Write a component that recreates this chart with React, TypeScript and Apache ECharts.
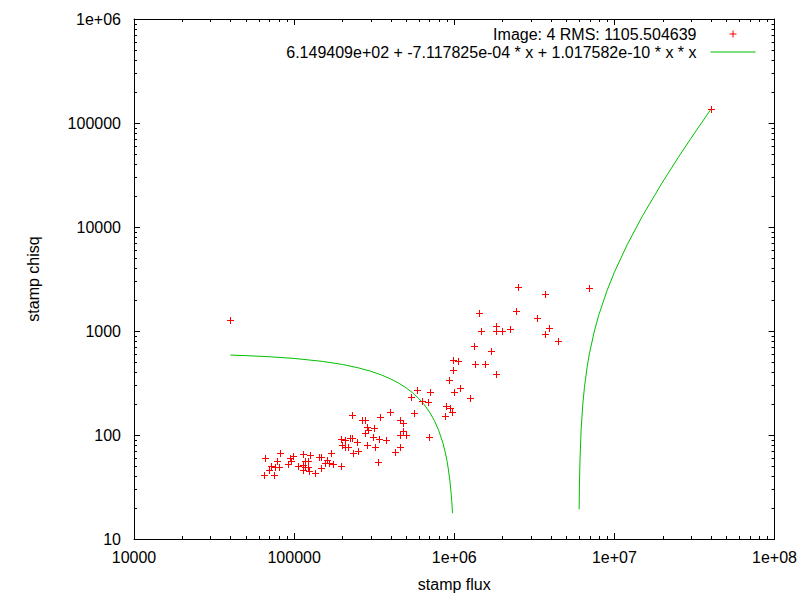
import React, { useEffect, useRef } from 'react';
import * as echarts from 'echarts';

const FONT = 'Liberation Sans';

const xTickLabels = ['10000', '100000', '1e+06', '1e+07', '1e+08'];
const yTickLabels = ['10', '100', '1000', '10000', '100000', '1e+06'];
const minorSteps = [2, 3, 4, 5, 6, 7, 8, 9];
const xDecades = [10000, 100000, 1000000, 10000000];
const yDecades = [10, 100, 1000, 10000, 100000];

const scatterName = 'Image: 4 RMS: 1105.504639';
const fitName = '6.149409e+02 + -7.117825e-04 * x + 1.017582e-10 * x * x';

const fluxValues = [
  40000, 64700, 65400, 69300, 72000, 74700, 75500, 78500, 80000, 81100,
  91400, 93700, 95000, 98200, 105500, 113400, 113400, 116200, 116200, 113400,
  121800, 121800, 123100, 124900, 134200, 142100, 147700, 146300, 156500, 161000,
  164100, 170500, 174500, 196900, 195000, 206400, 221800, 229300, 198600, 208500,
  216400, 247900, 232600, 250000, 229300, 264800, 278000, 341400, 395800, 285300,
  288600, 314600, 275200, 308800, 336500, 373600, 284400, 320900, 333100, 423600,
  457000, 479900, 475100, 457000, 503100, 457000, 558800, 583400, 710500, 533000,
  627000, 690200, 693200, 889900, 946900, 964700, 881200, 923900, 992900, 1082000,
  1250000, 978800, 1055000, 978800, 1323000, 1343000, 1550000, 1816000, 1694000, 1463000,
  1422000, 1816000, 1816000, 1985000, 2226000, 2416000, 2490000, 3272000, 3665000, 3708000,
  3888000, 4425000, 6908000, 40000000,
];
const chisqValues = [
  1270, 41.2, 59.7, 46.1, 50.3, 41.2, 49.6, 56.6, 49.6, 66.7,
  52.6, 59.7, 56.6, 62.8, 50.3, 65.7, 51.4, 56.6, 48.9, 46.1,
  56.6, 49.6, 45.4, 64.2, 42.8, 61.9, 61.9, 47.8, 54.2, 57.5,
  53.4, 67.6, 52.6, 50.3, 91.5, 89.5, 92.9, 94.2, 80.1, 77.2,
  77.2, 86.2, 66.7, 70.2, 154, 139.4, 139.4, 150.6, 165.3, 120.7,
  111.7, 116, 103.8, 95, 91.5, 89.5, 80.1, 77.5, 55.6, 67.9,
  139.4, 129.6, 109.3, 100, 100, 77.5, 161.7, 267.9, 257.4, 229.4,
  214.6, 206.2, 96.7, 190.1, 180.6, 165.3, 153.3, 337.9, 260.8, 281.2,
  224.4, 526.2, 518.1, 421.7, 709.6, 478.4, 478.4, 383.4, 642.3, 1011,
  1500, 1117, 1011, 1000, 1038, 1550, 2650, 1325, 2254, 929,
  1062, 801, 2574, 136000,
];

const fitLeftX = [
  40000, 50000, 70000, 100000, 150000, 200000, 250000, 300000, 350000, 400000,
  450000, 500000, 550000, 600000, 650000, 700000, 750000, 800000, 850000, 880000,
  900000, 920000, 940000, 955000, 960000, 965000, 970000, 975000,
];
const fitLeftY = [
  586.6, 579.6, 565.6, 544.8, 510.5, 476.7, 443.4, 410.6, 378.3, 346.5,
  315.2, 284.5, 254.2, 224.5, 195.3, 166.6, 138.3, 110.6, 83.4, 67.4,
  56.8, 46.2, 35.8, 28.0, 25.4, 22.8, 20.3, 17.7,
];
const fitRightX = [
  6023000, 6050000, 6100000, 6200000, 6350000, 6500000, 6750000, 7000000, 7500000, 8000000,
  9000000, 10000000, 12000000, 15000000, 20000000, 25000000, 30000000, 35000000, 40000000,
];
const fitRightY = [
  19.3, 33.2, 59.5, 113.4, 198.3, 287.6, 446.8, 618.6, 1000.5, 1433.2,
  2451.3, 3672.9, 6726.7, 12833.8, 27082.5, 46419.2, 70843.8, 100356.3, 134956.6,
];

const X_MIN = 10000;
const X_MAX = 100000000;
const Y_MIN = 10;
const Y_MAX = 1000000;

const PLUS_PATH = 'path://M0,-1L0,1M-1,0L1,0';

export default function App() {
  const ref = useRef<HTMLDivElement>(null);

  useEffect(() => {
    if (!ref.current) return;
    const chart = echarts.init(ref.current, null, { renderer: 'svg' });

    const scatterData = fluxValues.map((x, i) => [x, chisqValues[i]]);
    const fitLeft = fitLeftX.map((x, i) => [x, fitLeftY[i]]);
    const fitRight = fitRightX.map((x, i) => [x, fitRightY[i]]);

    const xMinor: number[][] = [];
    xDecades.forEach((d) => minorSteps.forEach((m) => xMinor.push([d * m, Y_MIN])));
    const yMinor: number[][] = [];
    yDecades.forEach((d) => minorSteps.forEach((m) => yMinor.push([X_MIN, d * m])));

    const black = '#000000';
    const red = '#ff0000';
    const green = '#00c000';
    const axisBase = {
      type: 'log',
      logBase: 10,
      axisLine: { show: true, onZero: false, lineStyle: { color: black, width: 1 } },
      axisTick: { show: true, inside: true, length: 6, lineStyle: { color: black, width: 1 } },
      splitLine: { show: false },
      minorTick: { show: false },
    };
    const labelStyle = { color: black, fontSize: 16, fontFamily: FONT };
    const expOf = (v: number) => Math.round(Math.log10(v));

    const option: any = {
      animation: false,
      backgroundColor: '#ffffff',
      textStyle: { fontFamily: FONT },
      grid: { left: 134, right: 25, top: 19, bottom: 61, containLabel: false },
      legend: {
        data: [
          { name: scatterName, icon: PLUS_PATH },
          { name: fitName, itemStyle: { opacity: 0 } },
        ],
        orient: 'vertical',
        align: 'right',
        right: 44,
        top: 25,
        padding: 0,
        itemWidth: 45,
        itemHeight: 7,
        itemGap: 0,
        selectedMode: false,
        symbolKeepAspect: true,
        textStyle: { ...labelStyle, lineHeight: 14, padding: [0, 9, 4, 0] },
        itemStyle: { borderWidth: 1 },
        lineStyle: { width: 1 },
      },
      xAxis: [
        {
          ...axisBase,
          min: X_MIN,
          max: X_MAX,
          position: 'bottom',
          name: 'stamp flux',
          nameLocation: 'middle',
          nameGap: 37,
          nameTextStyle: labelStyle,
          axisLabel: {
            ...labelStyle,
            margin: 10,
            formatter: (v: number) => xTickLabels[expOf(v) - 4] ?? '',
          },
        },
        {
          ...axisBase,
          min: X_MIN,
          max: X_MAX,
          position: 'top',
          axisLabel: { show: false },
        },
      ],
      yAxis: [
        {
          ...axisBase,
          min: Y_MIN,
          max: Y_MAX,
          position: 'left',
          name: 'stamp chisq',
          nameLocation: 'middle',
          nameGap: 93,
          nameTextStyle: labelStyle,
          axisLabel: {
            ...labelStyle,
            margin: 13,
            formatter: (v: number) => yTickLabels[expOf(v) - 1] ?? '',
          },
        },
        {
          ...axisBase,
          min: Y_MIN,
          max: Y_MAX,
          position: 'right',
          axisLabel: { show: false },
        },
      ],
      series: [
        {
          type: 'custom',
          silent: true,
          data: xMinor,
          z: 1,
          renderItem: (params: any, api: any) => {
            const p = api.coord([api.value(0), api.value(1)]);
            const cs = params.coordSys;
            const x = Math.round(p[0]) + 0.5;
            const yb = cs.y + cs.height;
            const yt = cs.y;
            return {
              type: 'group',
              children: [
                { type: 'line', shape: { x1: x, y1: yb, x2: x, y2: yb - 3 }, style: { stroke: black, lineWidth: 1 } },
                { type: 'line', shape: { x1: x, y1: yt, x2: x, y2: yt + 3 }, style: { stroke: black, lineWidth: 1 } },
              ],
            };
          },
        },
        {
          type: 'custom',
          silent: true,
          data: yMinor,
          z: 1,
          renderItem: (params: any, api: any) => {
            const p = api.coord([api.value(0), api.value(1)]);
            const cs = params.coordSys;
            const y = Math.round(p[1]) + 0.5;
            const xl = cs.x;
            const xr = cs.x + cs.width;
            return {
              type: 'group',
              children: [
                { type: 'line', shape: { x1: xl, y1: y, x2: xl + 3, y2: y }, style: { stroke: black, lineWidth: 1 } },
                { type: 'line', shape: { x1: xr, y1: y, x2: xr - 3, y2: y }, style: { stroke: black, lineWidth: 1 } },
              ],
            };
          },
        },
        {
          type: 'custom',
          name: scatterName,
          data: scatterData,
          silent: true,
          z: 4,
          itemStyle: { color: 'rgba(0,0,0,0)', borderColor: red, borderWidth: 1 },
          renderItem: (params: any, api: any) => {
            const p = api.coord([api.value(0), api.value(1)]);
            const cx = Math.round(p[0]) + 0.5;
            const cy = Math.round(p[1]) + 0.5;
            const h = 3.5;
            return {
              type: 'group',
              children: [
                { type: 'line', shape: { x1: cx - h, y1: cy, x2: cx + h, y2: cy }, style: { stroke: red, lineWidth: 1 } },
                { type: 'line', shape: { x1: cx, y1: cy - h, x2: cx, y2: cy + h }, style: { stroke: red, lineWidth: 1 } },
              ],
            };
          },
        },
        {
          type: 'line',
          name: fitName,
          data: fitLeft,
          symbol: 'none',
          showSymbol: false,
          lineStyle: { color: green, width: 1 },
          itemStyle: { color: green },
          emphasis: { disabled: true },
          z: 3,
        },
        {
          type: 'line',
          name: fitName,
          data: fitRight,
          symbol: 'none',
          showSymbol: false,
          lineStyle: { color: green, width: 1 },
          itemStyle: { color: green },
          emphasis: { disabled: true },
          z: 3,
        },
      ],
    };

    chart.setOption(option);
    return () => chart.dispose();
  }, []);

  return (
    <div
      ref={ref}
      style={{ position: 'fixed', left: 0, top: 0, width: 800, height: 600, background: '#ffffff' }}
    />
  );
}
